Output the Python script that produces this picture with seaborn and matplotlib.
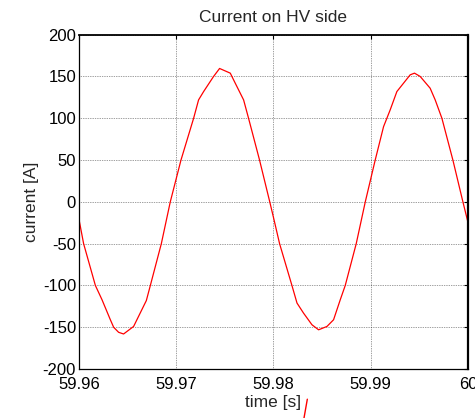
import matplotlib
matplotlib.use("Agg")
import matplotlib.pyplot as plt
import seaborn as sns
import pandas as pd
from matplotlib.lines import Line2D

# waveform samples
time_s = [59.96000, 59.96049, 59.96170, 59.96238, 59.96324, 59.96358, 59.96409,
          59.96460, 59.96563, 59.96694, 59.96735, 59.96848, 59.96940, 59.97050,
          59.97180, 59.97231, 59.97283, 59.97385, 59.97447, 59.97557, 59.97608,
          59.97694, 59.97745, 59.97858, 59.97963, 59.98002, 59.98064,
          59.98191, 59.98243, 59.98310, 59.98397, 59.98465, 59.98551, 59.98619,
          59.98688, 59.98739, 59.98852, 59.98945, 59.99047, 59.99133, 59.99201,
          59.99270, 59.99407, 59.99451, 59.99510, 59.99612, 59.99664, 59.99733,
          59.99846, 59.99949, 60.00000]
current_a = [-20, -50, -100, -117, -141, -150, -156,
             -158, -149, -118, -100, -50, 0, 50,
             100, 122, 132, 150, 159.6, 154, 142,
             122, 100, 50, 0, -19, -50,
             -100, -121, -133, -147, -153, -149, -141,
             -117, -100, -50, 0, 50, 90, 110,
             132, 152, 154, 150, 136, 122, 100,
             50, 0, -24]

x_ticks = [59.96, 59.97, 59.98, 59.99, 60.00]
x_tick_labels = ["59.96", "59.97", "59.98", "59.99", "60"]
y_ticks = [-200, -150, -100, -50, 0, 50, 100, 150, 200]

sns.set_style("white")
plt.rcParams['font.family'] = ['Liberation Sans', 'DejaVu Sans']
plt.rcParams['axes.unicode_minus'] = False

df = pd.DataFrame({'time': time_s, 'current': current_a})

fig = plt.figure(figsize=(4.75, 4.18), dpi=100)
ax = fig.add_axes([0.166, 0.117, 0.819, 0.800])

sns.lineplot(data=df, x='time', y='current', ax=ax, color='red', linewidth=0.9,
             estimator=None, sort=False)

ax.set_xlim(59.96, 60.0)
ax.set_ylim(-200, 200)
ax.set_xticks(x_ticks)
ax.set_xticklabels(x_tick_labels)
ax.set_yticks(y_ticks)
ax.grid(True, color='black', linestyle=(0, (1, 1.5)), linewidth=0.5, alpha=0.75)

for s in ax.spines.values():
    s.set_visible(True)
    s.set_color('black')
    s.set_linewidth(0.9)
ax.spines['right'].set_linewidth(1.6)
ax.spines['top'].set_linewidth(1.3)

ax.tick_params(direction='in', length=3, width=0.8, top=True, right=True,
               labelsize=12, colors='black')
ax.tick_params(axis='x', pad=6)
ax.tick_params(axis='y', pad=2)

ax.set_title('Current on HV side', fontsize=12.5, pad=9)
ax.set_xlabel('time [s]', fontsize=12.5, labelpad=2)
ax.set_ylabel('current [A]', fontsize=12.5, labelpad=3)

# small red stroke below the axis label
fig.add_artist(Line2D([0.647, 0.640], [0.045, 0.0], transform=fig.transFigure,
                      color='red', linewidth=1.0))

fig.savefig('out.png', dpi=100)
